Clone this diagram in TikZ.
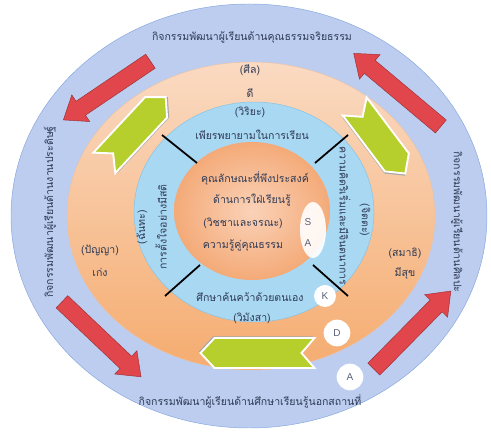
\documentclass[tikz,border=0pt]{standalone}
\usepackage{fontspec}
\setmainfont{Liberation Sans}
\newfontfamily\thaifont[Script=Thai]{Loma}
\usetikzlibrary{shapes.arrows}
\definecolor{outerblue}{HTML}{BCCDEF}
\definecolor{outerline}{HTML}{86A6DC}
\definecolor{ringtop}{HTML}{FADAC2}
\definecolor{ringbot}{HTML}{F5AC70}
\definecolor{skyblue}{HTML}{A9D8F2}
\definecolor{skyline}{HTML}{86C2E4}
\definecolor{coreout}{HTML}{F4AA78}
\definecolor{corein}{HTML}{FAD2B8}
\definecolor{arrowred}{HTML}{E0464B}
\definecolor{chevgreen}{HTML}{B6CF2C}
\definecolor{txt}{HTML}{2F3A55}

\begin{document}
\begin{tikzpicture}[x=0.03cm,y=-0.03cm,
  th/.style={font=\thaifont\fontsize{9}{10}\selectfont,text=txt,inner sep=1pt},
  letter/.style={font=\fontsize{8.5}{9}\selectfont,text=txt!80,inner sep=0pt},
  dot/.style={circle,fill=white,inner sep=0pt},
  redarrow/.style={single arrow,fill=arrowred,draw=arrowred!70!black,line width=0.4pt,
    inner xsep=0pt,inner ysep=7pt,single arrow head extend=6.5pt,single arrow tip angle=75},
  chevron/.pic={
    \fill[gray!70,shift={(1.5,1.5)}] (-#1,-15) -- (#1-14,-15) -- (#1,0) -- (#1-14,15)
      -- (-#1,15) -- (-#1+13,0) -- cycle;
    \draw[white,line width=1.6pt,fill=chevgreen,line join=miter] (-#1,-15) -- (#1-14,-15)
      -- (#1,0) -- (#1-14,15) -- (-#1,15) -- (-#1+13,0) -- cycle;}]
  \useasboundingbox (0,0) rectangle (491,433);

  \draw[outerline,fill=outerblue] (249,216) ellipse [x radius=238,y radius=212];
  \draw[coreout!90!black!60,top color=ringtop,bottom color=ringbot] (251,216) ellipse [x radius=184,y radius=154];
  \draw[skyline,fill=skyblue] (254,212) ellipse [x radius=120,y radius=110];
  \shade[inner color=corein,outer color=coreout] (252,211) ellipse [x radius=78,y radius=69];

  \draw[line width=1.5pt] (162,135) -- (197,163);
  \draw[line width=1.5pt] (315,163) -- (348,135);
  \draw[line width=1.5pt] (200,265) -- (165,296);
  \draw[line width=1.5pt] (313,265) -- (348,296);

  \fill[white,opacity=0.9] (313,230) ellipse [x radius=13,y radius=28];

  \node[redarrow,minimum height=3.15cm,rotate=214] (ra1) at (111.5,87.5) {};
  \node[redarrow,minimum height=3.41cm,rotate=140] (ra2) at (401.5,93.5) {};
  \node[redarrow,minimum height=3.27cm,rotate=-43.5] (ra3) at (97.5,335.5) {};
  \node[redarrow,minimum height=3.29cm,rotate=45.4] (ra4) at (408.5,334) {};

  \pic[rotate=47] (gc1) at (135,130) {chevron=45};
  \pic[rotate=-53] (gc2) at (380,140) {chevron=42};
  \pic[rotate=180] (gc3) at (257.5,353) {chevron=57};

  \node[th] (act1) at (252,37) {กิจกรรมพัฒนาผู้เรียนด้านคุณธรรมจริยธรรม};
  \node[th] (act2) at (250,401) {กิจกรรมพัฒนาผู้เรียนด้านศึกษาเรียนรู้นอกสถานที่};
  \node[th,rotate=90] (act3) at (50,212) {กิจกรรมพัฒนาผู้เรียนด้านงานประดิษฐ์};
  \node[th,rotate=-90] (act4) at (457,222) {กิจกรรมพัฒนาผู้เรียนด้านศิลปะ};

  \node[th] (sila) at (250,70) {(ศีล)};
  \node[th] (good) at (250,93) {ดี};
  \node[th] (panya) at (100,250) {(ปัญญา)};
  \node[th] (smart) at (100,272) {เก่ง};
  \node[th] (samathi) at (405,253) {(สมาธิ)};
  \node[th] (happy) at (405,273) {มีสุข};

  \node[th] (viriya) at (250,112) {(วิริยะ)};
  \node[th] (strive) at (252,135) {เพียรพยายามในการเรียน};
  \node[th] (study) at (250,297) {ศึกษาค้นคว้าด้วยตนเอง};
  \node[th] (vimamsa) at (252,318) {(วิมังสา)};
  \node[th,rotate=90] (chanda) at (142,227) {(ฉันทะ)};
  \node[th,rotate=90] (mindful) at (161,227) {การตั้งใจอย่างมีสติ};
  \node[th,rotate=-90] (creative) at (345,216) {ความคิดริเริ่มและมีจินตนาการ};
  \node[th,rotate=-90] (citta) at (365,220) {(จิตตะ)};

  \node[th] (core1) at (255,178) {คุณลักษณะที่พึงประสงค์};
  \node[th] (core2) at (252,200) {ด้านการใฝ่เรียนรู้};
  \node[th] (core3) at (243,223) {(วิชชาและจรณะ)};
  \node[th] (core4) at (243,245) {ความรู้คู่คุณธรรม};

  \node[letter] (s) at (308,222) {S};
  \node[letter] (a1) at (308,243) {A};
  \node[dot,minimum size=0.66cm] (k) at (325,296) {};
  \node[letter] at (k) {K};
  \node[dot,minimum size=0.8cm] (d) at (337,333) {};
  \node[letter] at (d) {D};
  \node[dot,minimum size=0.8cm] (a2) at (350,377) {};
  \node[letter] at (a2) {A};
\end{tikzpicture}
\end{document}
